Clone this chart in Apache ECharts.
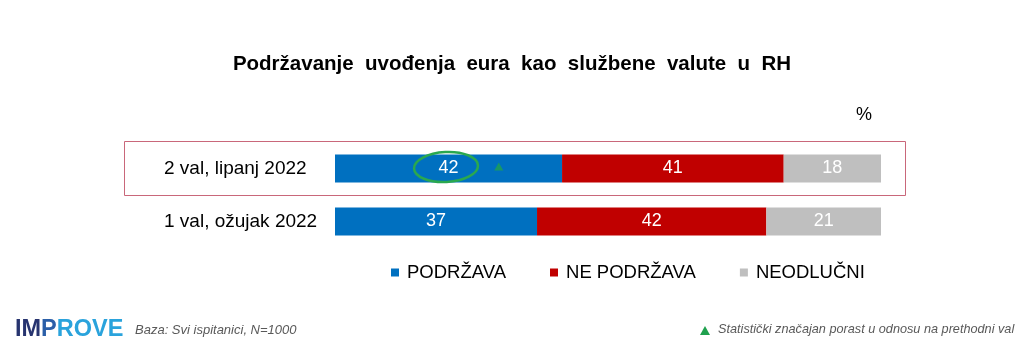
<!DOCTYPE html>
<html>
<head>
<meta charset="utf-8">
<script src="https://cdn.jsdelivr.net/npm/echarts@6/dist/echarts.min.js"></script>
<style>
html,body{margin:0;padding:0;background:#ffffff;}
#c{width:1024px;height:356px;}
</style>
</head>
<body>
<div id="c"></div>
<script>
const categories = ['2 val, lipanj 2022', '1 val, ožujak 2022'];
const seriesNames = ['PODRŽAVA', 'NE PODRŽAVA', 'NEODLUČNI'];
const podrzava = [42, 37];
const nePodrzava = [41, 42];
const neodlucni = [18, 21];
const significantUp = [30, null]; // position of the significance marker along the bar (%)
const colors = ['#0070c0', '#c00000', '#bfbfbf'];

const raw = [podrzava, nePodrzava, neodlucni];
const rowTotals = categories.map((_, i) => raw.reduce((s, arr) => s + arr[i], 0));
const norm = raw.map(arr => arr.map((v, i) => v / rowTotals[i] * 100));

const chart = echarts.init(document.getElementById('c'), null, {renderer: 'canvas'});
const FONT = 'Liberation Sans, Arial, sans-serif';

const barSeries = seriesNames.map((name, k) => ({
  name: name,
  type: 'bar',
  stack: 'total',
  barWidth: 28,
  itemStyle: {color: colors[k]},
  label: {
    show: true,
    position: 'inside',
    color: '#ffffff',
    fontSize: 18,
    fontFamily: FONT,
    formatter: p => String(raw[k][p.dataIndex])
  },
  emphasis: {disabled: true},
  data: norm[k]
}));

const option = {
  backgroundColor: '#ffffff',
  animation: false,
  title: {
    text: 'Podržavanje  uvođenja  eura  kao  službene  valute  u  RH',
    left: 'center',
    top: 49,
    textStyle: {fontSize: 20.5, fontWeight: 'bold', color: '#000', fontFamily: FONT}
  },
  grid: {left: 335, right: 143, top: 142, height: 106},
  xAxis: {
    type: 'value', min: 0, max: 100,
    show: false
  },
  yAxis: {
    type: 'category',
    inverse: true,
    data: categories,
    axisLine: {show: false},
    axisTick: {show: false},
    axisLabel: {
      align: 'left',
      margin: 171,
      fontSize: 19,
      color: '#000',
      fontFamily: FONT
    }
  },
  legend: {
    data: seriesNames,
    left: 386,
    top: 258,
    icon: 'rect',
    itemWidth: 8,
    itemHeight: 8,
    itemGap: 44,
    textStyle: {fontSize: 18.5, color: '#000', fontFamily: FONT, padding: [0, 0, 0, 3]}
  },
  series: barSeries.concat([{
    name: 'signif',
    type: 'scatter',
    symbol: 'triangle',
    symbolSize: [9, 8],
    symbolOffset: [0, -2],
    itemStyle: {color: '#1fa14e'},
    silent: true,
    z: 5,
    data: significantUp.map((v, i) => v == null ? null : [v, categories[i]])
  }]),
  graphic: [
    {type: 'rect', shape: {x: 124.5, y: 141.5, width: 781, height: 54}, style: {fill: 'none', stroke: '#c9677a', lineWidth: 1}, z: 0},
    {type: 'ellipse', shape: {cx: 446, cy: 167, rx: 32, ry: 15}, rotation: 0.05, originX: 446, originY: 167, style: {fill: 'none', stroke: '#2aa84f', lineWidth: 2.5}, z: 10},
    {type: 'text', left: 856, top: 106, style: {text: '%', fontSize: 18, fill: '#000', fontFamily: FONT}},
    {type: 'text', left: 15, top: 318, style: {
      text: '{a|IM}{b|P}{c|ROVE}',
      rich: {
        a: {fontSize: 23.5, fontWeight: 'bold', fill: '#27346f', fontFamily: FONT},
        b: {fontSize: 23.5, fontWeight: 'bold', fill: '#2b5fa8', fontFamily: FONT},
        c: {fontSize: 23.5, fontWeight: 'bold', fill: '#2aa3dc', fontFamily: FONT}
      }
    }},
    {type: 'text', left: 135, top: 324, style: {text: 'Baza: Svi ispitanici, N=1000', fontSize: 13, fontStyle: 'italic', fill: '#595959', fontFamily: FONT}},
    {type: 'polygon', shape: {points: [[700, 335], [710, 335], [705, 326]]}, style: {fill: '#1fa14e'}},
    {type: 'text', left: 718, top: 323, style: {text: 'Statistički značajan porast u odnosu na prethodni val', fontSize: 12.7, fontStyle: 'italic', fill: '#595959', fontFamily: FONT}}
  ]
};
chart.setOption(option);
</script>
</body>
</html>
